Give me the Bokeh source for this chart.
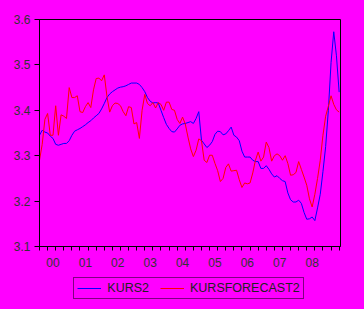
from bokeh.plotting import figure
from bokeh.layouts import column
from bokeh.models import Range1d, FixedTicker, Legend, LegendItem, ColumnDataSource
from bokeh.embed import file_html
from bokeh.resources import INLINE

year_labels = ["00", "01", "02", "03", "04", "05", "06", "07", "08"]

kurs2 = [3.345, 3.356, 3.352, 3.350, 3.343, 3.338, 3.325, 3.323, 3.325, 3.327,
         3.327, 3.333, 3.345, 3.354, 3.357, 3.360, 3.364, 3.368, 3.373, 3.377,
         3.383, 3.388, 3.393, 3.403, 3.415, 3.428, 3.436, 3.441, 3.445, 3.449,
         3.451, 3.452, 3.454, 3.457, 3.460, 3.460, 3.460, 3.457, 3.450, 3.441,
         3.428, 3.420, 3.416, 3.417, 3.416, 3.400, 3.384, 3.369, 3.360, 3.353,
         3.352, 3.359, 3.367, 3.370, 3.371, 3.373, 3.375, 3.371, 3.382, 3.397,
         3.334, 3.326, 3.318, 3.323, 3.331, 3.347, 3.354, 3.353, 3.346, 3.348,
         3.355, 3.363, 3.345, 3.341, 3.333, 3.310, 3.297, 3.297, 3.297, 3.290,
         3.287, 3.287, 3.272, 3.272, 3.278, 3.270, 3.260, 3.253, 3.256, 3.250,
         3.245, 3.243, 3.218, 3.203, 3.198, 3.198, 3.202, 3.195, 3.175, 3.160,
         3.161, 3.165, 3.157, 3.185, 3.215, 3.265, 3.320, 3.400, 3.505, 3.573,
         3.520, 3.440]

kursforecast2 = [3.290, 3.325, 3.380, 3.393, 3.345, 3.345, 3.410, 3.345, 3.390, 3.387,
                 3.382, 3.450, 3.428, 3.428, 3.432, 3.397, 3.395, 3.408, 3.417, 3.406,
                 3.445, 3.470, 3.471, 3.465, 3.478, 3.430, 3.396, 3.410, 3.416, 3.415,
                 3.410, 3.397, 3.388, 3.408, 3.406, 3.370, 3.373, 3.338, 3.400, 3.435,
                 3.415, 3.410, 3.417, 3.405, 3.417, 3.413, 3.400, 3.418, 3.418, 3.402,
                 3.400, 3.380, 3.371, 3.385, 3.370, 3.341, 3.315, 3.298, 3.312, 3.337,
                 3.333, 3.290, 3.285, 3.301, 3.301, 3.283, 3.267, 3.243, 3.250, 3.274,
                 3.282, 3.266, 3.267, 3.268, 3.247, 3.230, 3.240, 3.238, 3.240, 3.262,
                 3.290, 3.308, 3.288, 3.297, 3.330, 3.318, 3.288, 3.300, 3.304, 3.300,
                 3.290, 3.300, 3.283, 3.257, 3.258, 3.263, 3.287, 3.270, 3.253, 3.235,
                 3.205, 3.187, 3.215, 3.250, 3.290, 3.345, 3.387, 3.409, 3.432, 3.413,
                 3.401, 3.396]

series_names = ["KURS2", "KURSFORECAST2"]
series_colors = ["#0000FF", "#FF0000"]

months = list(range(len(kurs2)))  # monthly index starting Jan 2000

src = ColumnDataSource(dict(m=months, kurs2=kurs2, fc=kursforecast2))

MAG = "#FF00FF"
FONT = "Liberation Sans"

p = figure(width=364, height=275, output_backend="svg", toolbar_location=None,
           x_range=Range1d(0, 111.5), y_range=Range1d(3.1, 3.6),
           min_border_left=39, min_border_right=24, min_border_top=19,
           min_border_bottom=29, styles={"background-color": MAG})
p.background_fill_color = MAG
p.border_fill_color = MAG
p.outline_line_color = "black"
p.outline_line_width = 1
p.xgrid.visible = False
p.ygrid.visible = False

p.line("m", "kurs2", source=src, line_color=series_colors[0], line_width=1)
p.line("m", "fc", source=src, line_color=series_colors[1], line_width=1)

major = [i * 12 + 5 for i in range(len(year_labels))]
minor = list(range(0, 112, 3))
p.xaxis.ticker = FixedTicker(ticks=major, minor_ticks=minor)
p.xaxis.major_label_overrides = {t: lab for t, lab in zip(major, year_labels)}
p.xaxis.major_tick_out = 0
p.xaxis.major_tick_in = 0
p.xaxis.minor_tick_out = 4
p.xaxis.minor_tick_in = 0
p.xaxis.major_label_standoff = 7

p.yaxis.ticker = FixedTicker(ticks=[3.1, 3.2, 3.3, 3.4, 3.5, 3.6])
p.yaxis.major_tick_out = 5
p.yaxis.major_tick_in = 0
p.yaxis.minor_tick_out = 0
p.yaxis.minor_tick_in = 0
p.yaxis.major_label_standoff = 4

for ax in (p.xaxis[0], p.yaxis[0]):
    ax.axis_line_color = "black"
    ax.major_tick_line_color = "black"
    ax.minor_tick_line_color = "black"
    ax.major_label_text_font = FONT
    ax.major_label_text_font_size = "12px"
    ax.major_label_text_color = "#333333"

# Legend strip below the chart (frame aligned with the chart's frame)
p2 = figure(width=364, height=34, output_backend="svg", toolbar_location=None,
            x_range=Range1d(0, 1), y_range=Range1d(0, 1),
            x_axis_type=None, y_axis_type=None,
            min_border_left=39, min_border_right=24, min_border_top=0,
            min_border_bottom=0, styles={"background-color": MAG})
p2.grid.visible = False
p2.outline_line_color = None
p2.background_fill_color = MAG
p2.border_fill_color = MAG
# proxy renderers for the legend keys (kept outside the visible range)
proxy = ColumnDataSource(dict(x=[-5, -4], y=[-5, -4]))
items = []
for name, col in zip(series_names, series_colors):
    rr = p2.line("x", "y", source=proxy, line_color=col, line_width=1)
    items.append(LegendItem(label=name, renderers=[rr]))

legend = Legend(items=items, orientation="horizontal", location=(34.3, 9.7))
legend.margin = 0
legend.padding = 3
legend.spacing = 11
legend.glyph_width = 24
legend.glyph_height = 12
legend.label_standoff = 6
legend.label_text_font = FONT
legend.label_text_font_size = "12.5px"
legend.label_text_color = "#222222"
legend.border_line_color = "black"
legend.border_line_width = 1
legend.background_fill_color = MAG
legend.background_fill_alpha = 1
p2.add_layout(legend, "center")

layout = column(p, p2, spacing=0, styles={"background-color": MAG})
open("out.html", "w").write(file_html(layout, INLINE))
